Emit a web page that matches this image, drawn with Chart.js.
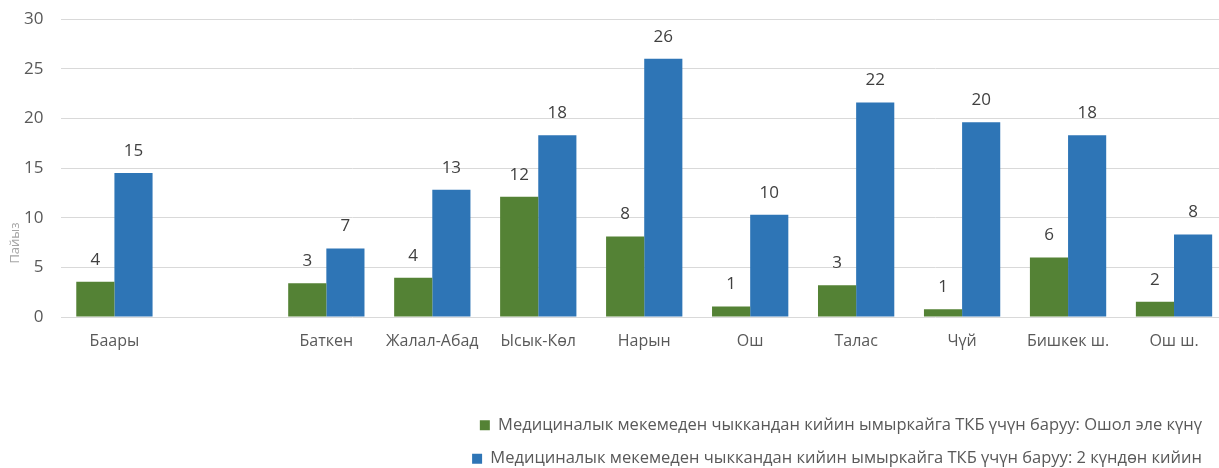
<!DOCTYPE html>
<html>
<head>
<meta charset="utf-8">
<script src="https://cdn.jsdelivr.net/npm/chart.js@4.4.1/dist/chart.umd.min.js"></script>
<style>
  html, body { margin: 0; padding: 0; background: #fff; overflow: hidden; }
  #wrap { width: 1219px; height: 468px; overflow: hidden; }
</style>
</head>
<body>
<!-- the source plot runs a few pixels past the right edge, so the canvas is a bit wider and clipped -->
<div id="wrap"><canvas id="chart" width="1227" height="468"></canvas></div>
<script>
const regions = ['Баары', '', 'Баткен', 'Жалал-Абад', 'Ысык-Көл', 'Нарын', 'Ош', 'Талас', 'Чүй', 'Бишкек ш.', 'Ош ш.']
const sameDay = [3.55, null, 3.4, 3.96, 12.1, 8.1, 1.05, 3.2, 0.78, 6.0, 1.54]
const afterTwoDays = [14.5, null, 6.9, 12.8, 18.3, 26.0, 10.3, 21.6, 19.6, 18.3, 8.3]
const seriesNames = [
    'Медициналык мекемеден чыккандан кийин ымыркайга ТКБ үчүн баруу: Ошол эле күнү',
    'Медициналык мекемеден чыккандан кийин ымыркайга ТКБ үчүн баруу: 2 күндөн кийин'
]
const yTicks = [0, 5, 10, 15, 20, 25, 30]
const yTitle = 'Пайыз'

const FONT = '"Open Sans", "Noto Sans", sans-serif'
const greenColor = '#548235'
const blueColor = '#2e75b6'

// value labels above each bar (rounded, like the source)
const valueLabels = {
    id: 'valueLabels',
    afterDatasetsDraw: function (chart) {
        const ctx = chart.ctx
        ctx.save()
        ctx.font = '17px ' + FONT
        ctx.fillStyle = '#404040'
        ctx.textAlign = 'center'
        ctx.textBaseline = 'middle'
        chart.data.datasets.forEach(function (ds, i) {
            chart.getDatasetMeta(i).data.forEach(function (bar, j) {
                if (ds.data[j] == null) return
                ctx.fillText(Math.round(ds.data[j]), bar.x, bar.y - 22)
            })
        })
        ctx.restore()
    }
}

// axis title sits lower than centre in the source
const axisTitle = {
    id: 'axisTitle',
    afterDraw: function (chart) {
        const ctx = chart.ctx
        ctx.save()
        ctx.translate(15, 243)
        ctx.rotate(-Math.PI / 2)
        ctx.font = '13px ' + FONT
        ctx.fillStyle = '#a6a6a6'
        ctx.textAlign = 'center'
        ctx.textBaseline = 'middle'
        ctx.fillText(yTitle, 0, 0)
        ctx.restore()
    }
}

// keep the legend inside the visible part
const legendShift = {
    id: 'legendShift',
    afterLayout: function (chart) {
        if (chart.legend) chart.legend.right -= 8
    }
}

new Chart(document.getElementById('chart'), {
    type: 'bar',
    data: {
        labels: regions,
        datasets: [
            {
                label: seriesNames[0],
                data: sameDay,
                backgroundColor: greenColor,
                borderWidth: 0,
                categoryPercentage: 0.72,
                barPercentage: 1
            },
            {
                label: seriesNames[1],
                data: afterTwoDays,
                backgroundColor: blueColor,
                borderWidth: 0,
                categoryPercentage: 0.72,
                barPercentage: 1
            }
        ]
    },
    options: {
        responsive: false,
        animation: false,
        layout: {
            padding: { left: 6, right: 0, top: 19, bottom: -9 }
        },
        plugins: {
            tooltip: { enabled: false },
            legend: {
                position: 'bottom',
                align: 'end',
                labels: {
                    boxWidth: 10,
                    boxHeight: 10,
                    padding: 17,
                    color: '#595959',
                    font: { family: FONT, size: 16.5 }
                }
            }
        },
        scales: {
            x: {
                border: { display: false },
                grid: { display: false },
                afterFit: function (axis) { axis.height = 83 },
                ticks: {
                    color: '#595959',
                    font: { family: FONT, size: 16 },
                    padding: 7,
                    maxRotation: 0,
                    autoSkip: false
                }
            },
            y: {
                min: 0,
                max: 30,
                afterBuildTicks: function (axis) {
                    axis.ticks = yTicks.map(function (v) { return { value: v } })
                },
                afterFit: function (axis) {
                    axis.paddingTop = 0
                    axis.paddingBottom = 0
                },
                border: { display: false },
                grid: { color: '#d9d9d9', drawTicks: false },
                ticks: {
                    color: '#595959',
                    font: { family: FONT, size: 17 },
                    padding: 18
                }
            }
        }
    },
    plugins: [valueLabels, axisTitle, legendShift]
})
</script>
</body>
</html>
